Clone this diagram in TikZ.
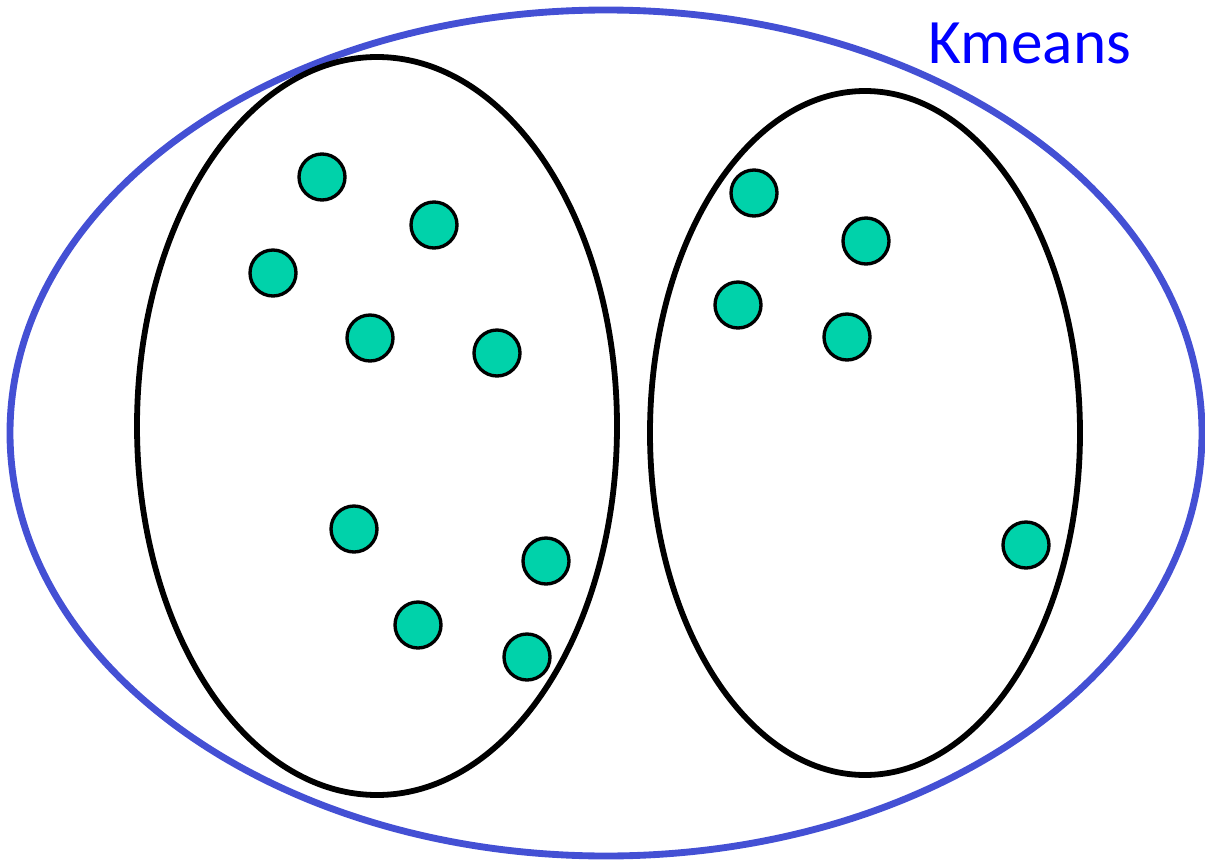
\documentclass[tikz,border=0pt]{standalone}
\usepackage{fontspec}
\setmainfont{Carlito}
\usepackage{xcolor}
\usetikzlibrary{positioning}
\definecolor{kmBlue}{RGB}{68,80,212}
\definecolor{kmText}{RGB}{0,0,255}
\definecolor{ptTeal}{RGB}{0,210,170}

\begin{document}
\begin{tikzpicture}[x=0.02cm,y=-0.02cm]
\useasboundingbox (0,0) rectangle (1205,862);

% =========================
% outer Kmeans ellipse
% =========================
\draw[kmBlue, line width=3.9pt] (606,433) ellipse [x radius=596, y radius=423];
\node[text=kmText, font=\fontsize{36}{40}\selectfont] (kmLabel) at (1030,43) {Kmeans};

% =========================
% clusters
% =========================
\draw[black, line width=3.3pt] (377,426) ellipse [x radius=240, y radius=369];
\draw[black, line width=3.3pt] (865,433) ellipse [x radius=215, y radius=342];

% data points
\foreach \px/\py in {322/177, 434/225, 273/273, 370/338, 497/353,
                     354/529, 546/561, 418/625, 527/657,
                     754/193, 866/241, 738/305, 847/337, 1026/545}
    \filldraw[fill=ptTeal, draw=black, line width=1.9pt] (\px,\py) circle (23);

\end{tikzpicture}
\end{document}
